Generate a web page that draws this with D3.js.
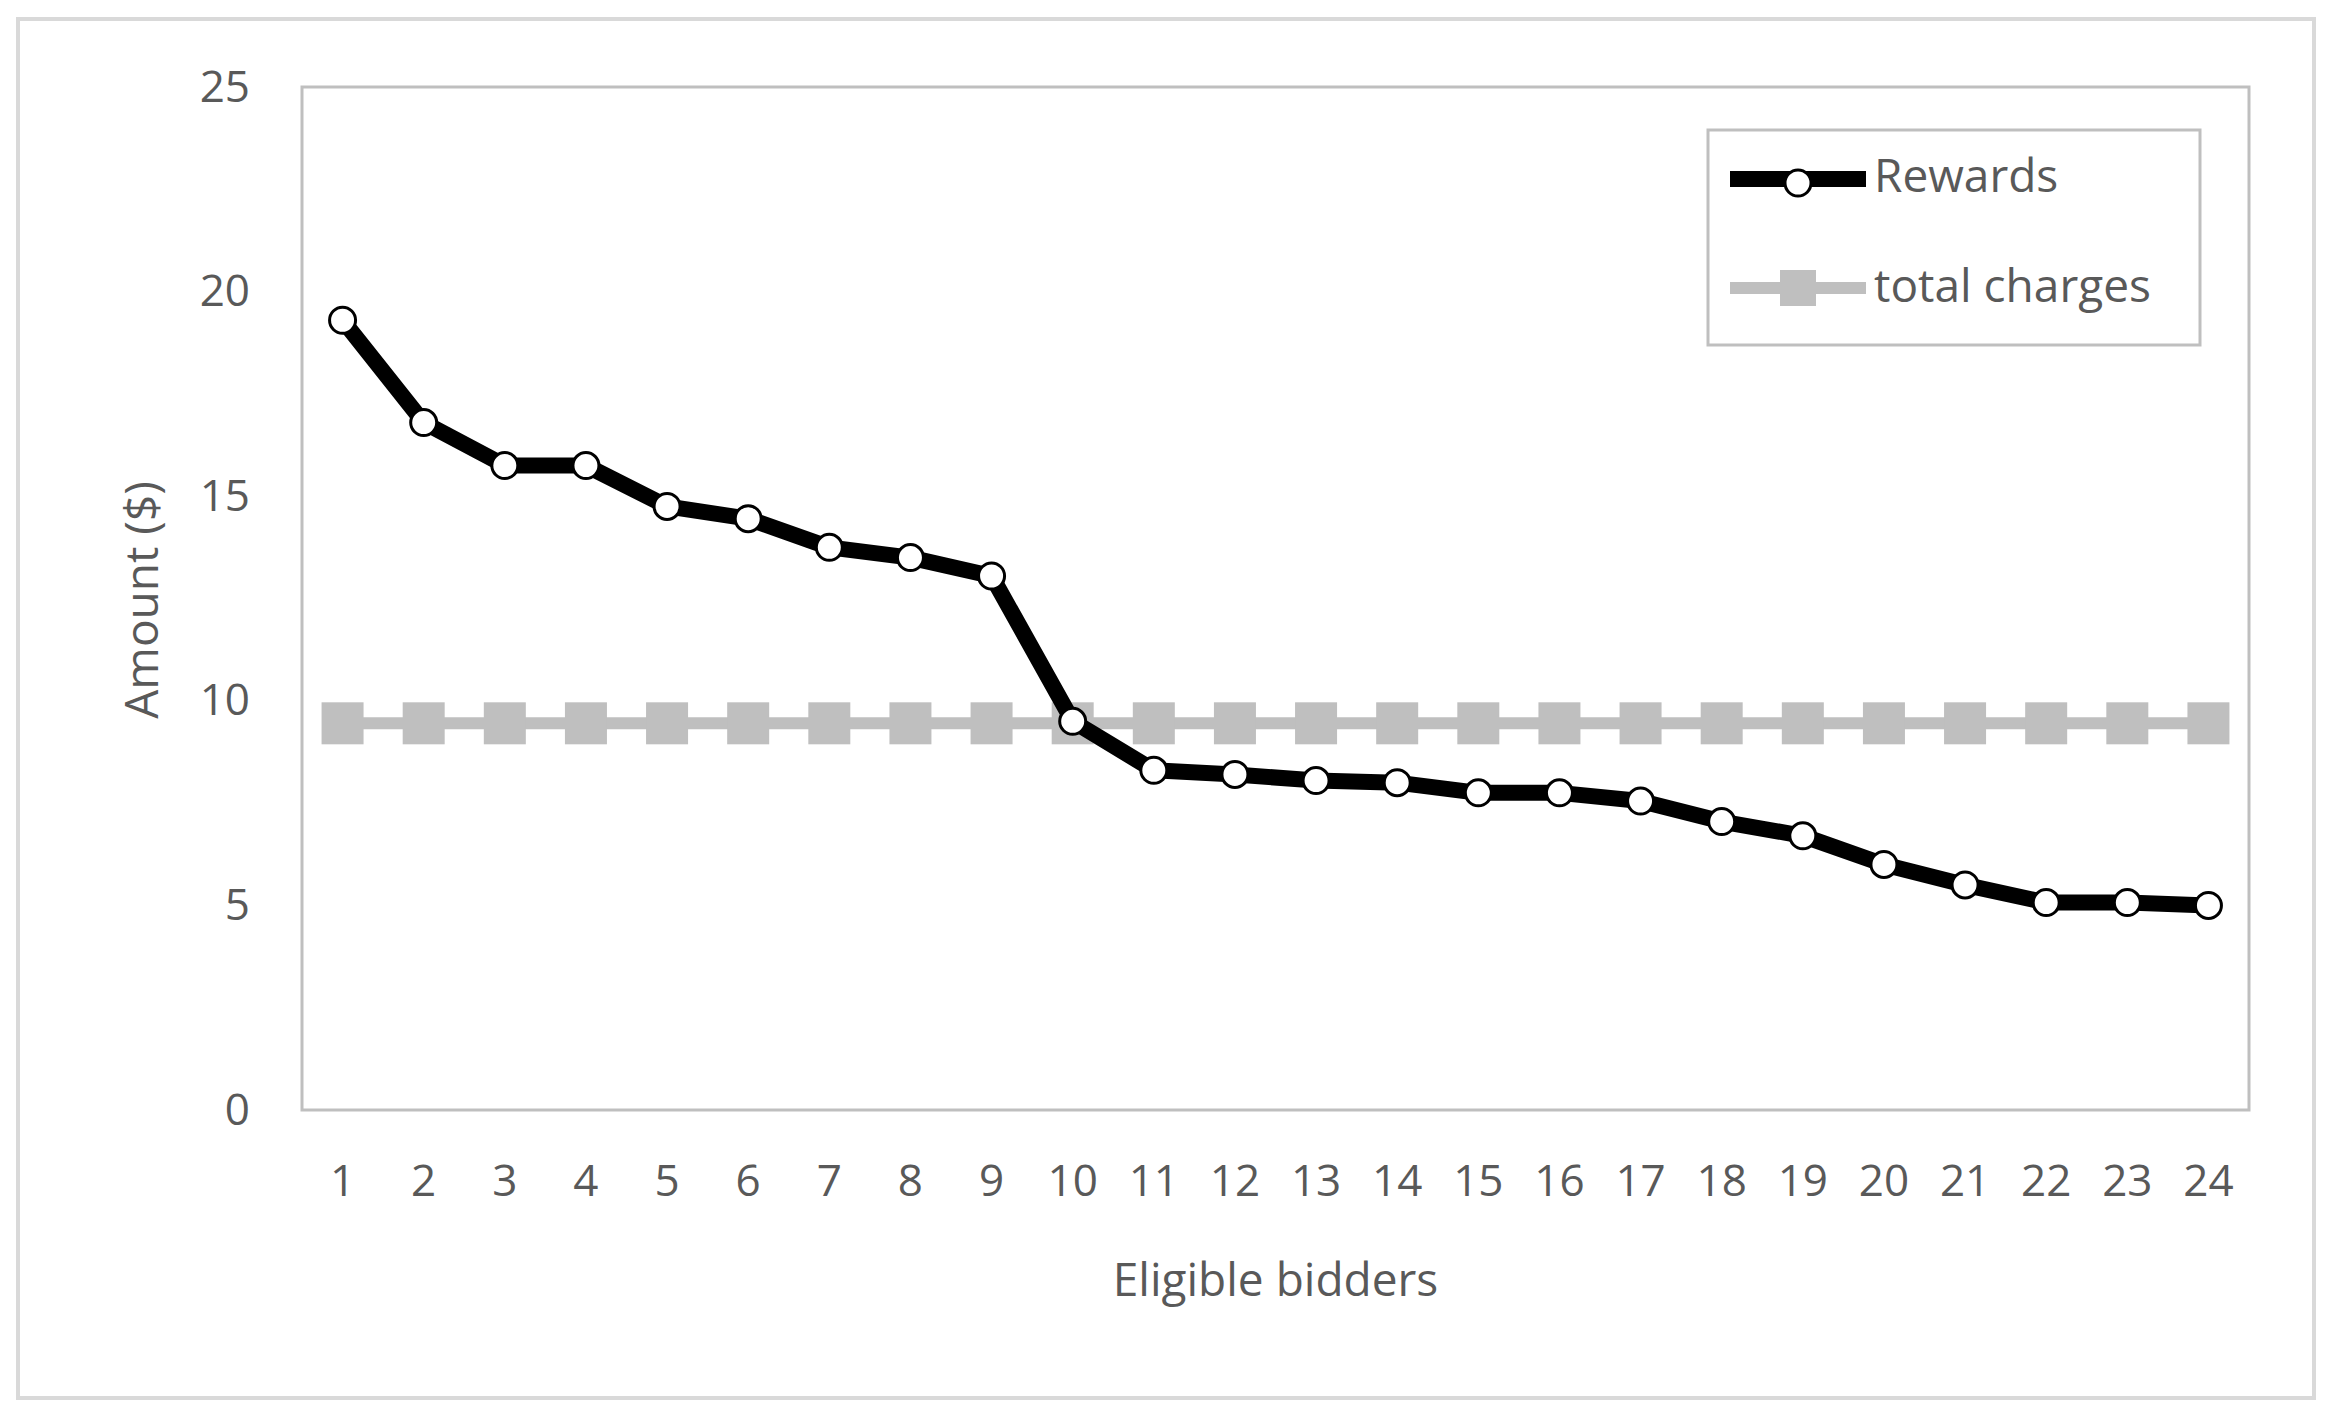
<!DOCTYPE html>
<html><head><meta charset="utf-8">
<script src="https://cdn.jsdelivr.net/npm/d3@7"></script>
<style>body{margin:0;background:#fff}text{font-family:"Open Sans",sans-serif;fill:#595959}</style>
</head><body><svg id="c" width="2328" height="1410"></svg>
<script>
const bidders = d3.range(1, 25).map(String);
const rewards = [19.3,16.8,15.75,15.75,14.75,14.45,13.75,13.5,13.05,9.5,8.3,8.2,8.05,8.0,7.75,7.75,7.55,7.05,6.7,6.0,5.5,5.07,5.07,5.0];
const totalCharges = bidders.map(() => 9.45);
const yTicks = [0,5,10,15,20,25];

const svg = d3.select("#c");
const m = {left:302, right:2249, top:87, bottom:1110};

svg.append("rect").attr("x",18).attr("y",19).attr("width",2296).attr("height",1379)
  .attr("fill","#fff").attr("stroke","#d9d9d9").attr("stroke-width",4);

const x = d3.scaleBand().domain(bidders).range([m.left, m.right]);
const y = d3.scaleLinear().domain([0,25]).range([m.bottom, m.top]);

svg.append("rect").attr("x",m.left).attr("y",m.top).attr("width",m.right-m.left).attr("height",m.bottom-m.top)
  .attr("fill","none").attr("stroke","#bfbfbf").attr("stroke-width",3);

const xAxis = svg.append("g").attr("transform",`translate(0,${m.bottom})`)
  .call(d3.axisBottom(x).tickSize(0).tickPadding(55));
const yAxis = svg.append("g").attr("transform",`translate(${m.left},0)`)
  .call(d3.axisLeft(y).tickValues(yTicks).tickSize(0).tickPadding(52));
[xAxis,yAxis].forEach(a => {
  a.select(".domain").remove();
  a.selectAll("text").style("font-size","44px").attr("fill","#595959").style("font-family","Open Sans");
});

const cx = d => x(d) + x.bandwidth()/2;

// total charges
svg.append("path").datum(totalCharges)
  .attr("d", d3.line().x((d,i)=>cx(bidders[i])).y(d=>y(d)))
  .attr("fill","none").attr("stroke","#bfbfbf").attr("stroke-width",12);
svg.selectAll(".sq").data(totalCharges).join("rect")
  .attr("x",(d,i)=>cx(bidders[i])-21).attr("y",d=>y(d)-21)
  .attr("width",42).attr("height",42).attr("fill","#bfbfbf");

// rewards
svg.append("path").datum(rewards)
  .attr("d", d3.line().x((d,i)=>cx(bidders[i])).y(d=>y(d)))
  .attr("fill","none").attr("stroke","#000").attr("stroke-width",16).attr("stroke-linejoin","round");
svg.selectAll(".pt").data(rewards).join("circle")
  .attr("cx",(d,i)=>cx(bidders[i])).attr("cy",d=>y(d)).attr("r",13)
  .attr("fill","#fff").attr("stroke","#000").attr("stroke-width",3);

// titles
svg.append("text").attr("x",(m.left+m.right)/2).attr("y",1296).attr("text-anchor","middle")
  .style("font-size","46px").text("Eligible bidders");
svg.append("text").attr("transform","translate(158,600) rotate(-90)").attr("text-anchor","middle")
  .style("font-size","46px").text("Amount  ($)");

// legend
const lg = svg.append("g");
lg.append("rect").attr("x",1708).attr("y",130).attr("width",492).attr("height",215)
  .attr("fill","#fff").attr("stroke","#bfbfbf").attr("stroke-width",3);
lg.append("line").attr("x1",1730).attr("x2",1866).attr("y1",179).attr("y2",179).attr("stroke","#000").attr("stroke-width",16);
lg.append("circle").attr("cx",1798).attr("cy",183).attr("r",13).attr("fill","#fff").attr("stroke","#000").attr("stroke-width",3);
lg.append("text").attr("x",1874).attr("y",192).style("font-size","46px").text("Rewards");
lg.append("line").attr("x1",1730).attr("x2",1866).attr("y1",288).attr("y2",288).attr("stroke","#bfbfbf").attr("stroke-width",12);
lg.append("rect").attr("x",1780).attr("y",270).attr("width",36).attr("height",36).attr("fill","#bfbfbf");
lg.append("text").attr("x",1874).attr("y",302).style("font-size","46px").text("total charges");
</script></body></html>
